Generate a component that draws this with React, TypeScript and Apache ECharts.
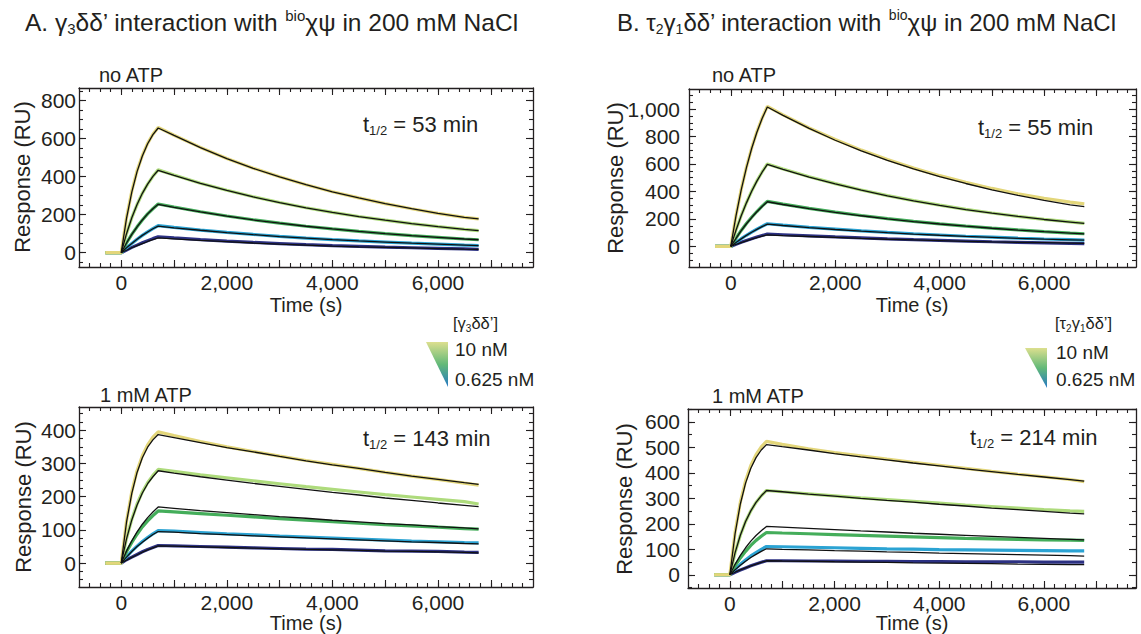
import React, { useEffect, useRef } from "react";
import * as echarts from "echarts";

// ---------- data (time in s, response in RU) ----------
const T_DATA = [-300, 0, 100, 200, 300, 400, 500, 600, 700, 1000, 1500, 2000, 2500, 3000, 3500, 4000, 4500, 5000, 5500, 6000, 6500, 6770];
const T_FIT = [0, 100, 200, 300, 400, 500, 600, 700, 1000, 1500, 2000, 2500, 3000, 3500, 4000, 4500, 5000, 5500, 6000, 6500, 6770];

const CONCENTRATIONS = ["10 nM", "5 nM", "2.5 nM", "1.25 nM", "0.625 nM"];
const COLORS = ["#e3d67a", "#aedb7c", "#44ad5a", "#2ba3d3", "#2c3183"];

const X_LABELS = [0, 2000, 4000, 6000];
const Y_LABELS_A_NO_ATP = [0, 200, 400, 600, 800];
const Y_LABELS_A_ATP = [0, 100, 200, 300, 400];
const Y_LABELS_B_NO_ATP = [0, 200, 400, 600, 800, 1000];
const Y_LABELS_B_ATP = [0, 100, 200, 300, 400, 500, 600];

const A_NO_ATP_DATA = [
  [0, 0, 184, 323, 430, 511, 574, 622, 658, 617, 553, 495, 444, 399, 357, 320, 288, 258, 231, 207, 186, 178],
  [0, 0, 100, 184, 253, 312, 360, 401, 435, 408, 365, 328, 294, 264, 236, 212, 190, 171, 153, 137, 123, 116],
  [0, 0, 51, 96, 136, 172, 204, 231, 256, 240, 215, 193, 173, 155, 139, 125, 112, 100, 90, 81, 72, 68],
  [0, 0, 26, 49, 71, 91, 109, 126, 142, 133, 119, 107, 96, 86, 77, 69, 62, 56, 50, 45, 40, 38],
  [0, 0, 14, 28, 40, 52, 63, 74, 84, 78, 69, 61, 54, 48, 42, 37, 33, 29, 26, 23, 20, 18],
];
const A_NO_ATP_FIT = [
  [0, 180, 318, 426, 508, 572, 620, 655, 616, 552, 494, 443, 398, 357, 320, 288, 258, 231, 207, 186, 178],
  [0, 100, 184, 253, 312, 360, 401, 433, 406, 364, 327, 293, 263, 236, 212, 190, 171, 153, 137, 123, 116],
  [0, 51, 96, 136, 172, 204, 231, 254, 238, 214, 192, 172, 155, 139, 125, 112, 100, 90, 81, 72, 68],
  [0, 26, 49, 71, 91, 109, 126, 140, 131, 118, 106, 95, 85, 77, 69, 62, 56, 50, 45, 40, 37],
  [0, 13, 26, 37, 48, 59, 69, 78, 73, 65, 58, 51, 45, 40, 35, 31, 28, 25, 22, 19, 18],
];

const B_NO_ATP_DATA = [
  [0, 0, 224, 415, 577, 716, 834, 934, 1020, 958, 862, 778, 701, 632, 570, 515, 466, 422, 383, 350, 322, 310],
  [0, 0, 119, 225, 319, 403, 477, 542, 600, 563, 507, 457, 411, 370, 333, 300, 270, 243, 219, 197, 178, 167],
  [0, 0, 60, 116, 167, 212, 254, 293, 328, 308, 277, 250, 225, 202, 182, 164, 148, 133, 120, 108, 97, 92],
  [0, 0, 29, 56, 81, 104, 126, 146, 165, 155, 139, 126, 113, 102, 92, 83, 74, 67, 60, 54, 49, 45],
  [0, 0, 15, 30, 43, 56, 68, 79, 90, 85, 77, 69, 62, 55, 49, 44, 39, 34, 30, 26, 22, 20],
];
const B_NO_ATP_FIT = [
  [0, 222, 412, 574, 713, 831, 931, 1015, 954, 859, 773, 696, 627, 564, 508, 458, 412, 371, 335, 302, 290],
  [0, 118, 223, 317, 401, 475, 540, 597, 561, 505, 455, 409, 368, 331, 298, 268, 242, 218, 196, 177, 167],
  [0, 59, 115, 165, 210, 252, 290, 325, 305, 275, 248, 223, 201, 181, 163, 147, 132, 119, 107, 97, 91],
  [0, 29, 55, 80, 103, 124, 144, 162, 152, 137, 123, 111, 100, 90, 81, 73, 66, 59, 53, 48, 45],
  [0, 14, 28, 41, 53, 64, 74, 84, 79, 72, 65, 58, 52, 47, 42, 37, 33, 30, 27, 24, 22],
];

const A_ATP_DATA = [
  [0, 0, 126, 215, 278, 323, 356, 379, 395, 384, 366, 350, 336, 322, 309, 297, 285, 273, 262, 252, 241, 235],
  [0, 0, 74, 132, 178, 214, 242, 264, 282, 276, 266, 257, 248, 239, 230, 222, 214, 206, 199, 192, 185, 178],
  [0, 0, 34, 62, 87, 109, 127, 143, 157, 154, 149, 144, 139, 134, 129, 125, 120, 116, 112, 108, 104, 102],
  [0, 0, 19, 36, 51, 65, 77, 88, 98, 96, 92, 88, 85, 81, 78, 75, 72, 69, 66, 64, 62, 61],
  [0, 0, 10, 18, 26, 34, 41, 47, 53, 52, 50, 48, 46, 44, 42, 41, 39, 37, 36, 35, 33, 32],
];
const A_ATP_FIT = [
  [0, 123, 210, 273, 317, 349, 371, 387, 378, 363, 348, 335, 321, 308, 296, 285, 273, 262, 252, 242, 237],
  [0, 73, 130, 175, 211, 239, 260, 278, 271, 260, 250, 240, 231, 222, 213, 205, 196, 189, 181, 174, 170],
  [0, 36, 67, 94, 117, 137, 154, 169, 165, 158, 152, 146, 140, 135, 129, 124, 119, 115, 110, 106, 103],
  [0, 18, 35, 50, 63, 75, 86, 95, 93, 89, 86, 82, 79, 76, 73, 70, 67, 64, 62, 59, 58],
  [0, 9, 17, 25, 33, 40, 46, 52, 51, 49, 47, 45, 43, 41, 40, 38, 36, 35, 34, 32, 31],
];

const B_ATP_DATA = [
  [0, 0, 167, 285, 369, 429, 472, 502, 524, 512, 495, 480, 467, 454, 442, 430, 418, 406, 395, 385, 374, 366],
  [0, 0, 87, 155, 209, 251, 284, 310, 331, 326, 318, 310, 302, 295, 288, 281, 274, 268, 262, 256, 251, 249],
  [0, 0, 36, 66, 92, 115, 135, 151, 166, 164, 161, 158, 155, 152, 149, 146, 143, 141, 139, 137, 136, 135],
  [0, 0, 22, 41, 58, 74, 87, 100, 111, 110, 108, 106, 104, 102, 101, 99, 98, 97, 96, 95, 94, 94],
  [0, 0, 10, 19, 27, 35, 42, 49, 55, 55, 54, 54, 53, 53, 52, 52, 51, 51, 51, 50, 50, 50],
];
const B_ATP_FIT = [
  [0, 162, 278, 360, 418, 460, 490, 511, 503, 490, 476, 463, 451, 439, 428, 416, 405, 394, 384, 374, 368],
  [0, 87, 155, 209, 251, 284, 310, 331, 326, 317, 309, 300, 292, 285, 277, 270, 262, 256, 249, 242, 239],
  [0, 41, 76, 106, 132, 154, 173, 190, 187, 182, 177, 172, 168, 163, 159, 155, 151, 147, 143, 139, 137],
  [0, 20, 37, 53, 68, 80, 92, 102, 100, 98, 95, 93, 90, 88, 85, 83, 81, 79, 77, 75, 73],
  [0, 10, 19, 27, 35, 42, 49, 55, 54, 53, 51, 50, 49, 47, 46, 45, 44, 42, 41, 40, 40],
];

// ---------- layout ----------
const FONT = "'Liberation Sans', Arial, Helvetica, sans-serif";
const INK = "#231f20";

const PANELS = [
  { grid: { left: 79, top: 88, width: 454, height: 179 }, x: [-800, 7800], y: [-75, 865], yLabels: Y_LABELS_A_NO_ATP, yMinor: 50, data: A_NO_ATP_DATA, fit: A_NO_ATP_FIT, labelMargin: 3, half: "53" },
  { grid: { left: 79, top: 407, width: 454, height: 180 }, x: [-800, 7800], y: [-72, 470], yLabels: Y_LABELS_A_ATP, yMinor: 25, data: A_ATP_DATA, fit: A_ATP_FIT, labelMargin: 3, half: "143" },
  { grid: { left: 689, top: 89, width: 447, height: 178 }, x: [-800, 7760], y: [-150, 1146], yLabels: Y_LABELS_B_NO_ATP, yMinor: 50, data: B_NO_ATP_DATA, fit: B_NO_ATP_FIT, labelMargin: 9, half: "55" },
  { grid: { left: 688, top: 409, width: 448, height: 179 }, x: [-800, 7760], y: [-52, 651], yLabels: Y_LABELS_B_ATP, yMinor: 50, data: B_ATP_DATA, fit: B_ATP_FIT, labelMargin: 8, half: "214" },
];

function stepTicks(min: number, max: number, step: number) {
  const out: number[] = [];
  for (let v = Math.ceil(min / step) * step; v < max; v += step) {
    if (v > min) out.push(v);
  }
  return out;
}

const fmt = (v: number) => Number(v).toLocaleString("en-US");

function buildOption() {
  const grid: any[] = [];
  const xAxis: any[] = [];
  const yAxis: any[] = [];
  const series: any[] = [];
  const lineStyle = { color: INK, width: 1.3 };
  const tickStyle = { color: INK, width: 1.1 };

  PANELS.forEach((p, i) => {
    grid.push({ ...p.grid, containLabel: false });
    const xMajor = stepTicks(p.x[0], p.x[1], 1000);
    const xMinor = stepTicks(p.x[0], p.x[1], 200);
    const yMinor = stepTicks(p.y[0], p.y[1], p.yMinor);
    const xc = { gridIndex: i, type: "value", min: p.x[0], max: p.x[1], splitLine: { show: false }, silent: true };
    const yc = { gridIndex: i, type: "value", min: p.y[0], max: p.y[1], splitLine: { show: false }, silent: true };
    ["bottom", "top"].forEach((pos) => {
      xAxis.push({
        ...xc, position: pos,
        axisLine: { show: true, onZero: false, lineStyle },
        axisTick: { show: true, inside: true, length: 7, customValues: xMajor, lineStyle: tickStyle },
        axisLabel: pos === "bottom"
          ? { show: true, customValues: X_LABELS, formatter: fmt, margin: 5, fontSize: 21, color: INK, fontFamily: FONT }
          : { show: false },
      });
      xAxis.push({
        ...xc, position: pos,
        axisLine: { show: false, onZero: false },
        axisTick: { show: true, inside: true, length: 4, customValues: xMinor, lineStyle: tickStyle },
        axisLabel: { show: false },
      });
    });
    ["left", "right"].forEach((pos) => {
      yAxis.push({
        ...yc, position: pos,
        axisLine: { show: true, onZero: false, lineStyle },
        axisTick: { show: true, inside: true, length: 7, customValues: p.yLabels, lineStyle: tickStyle },
        axisLabel: pos === "left"
          ? { show: true, customValues: p.yLabels, formatter: fmt, margin: p.labelMargin, fontSize: 21, color: INK, fontFamily: FONT }
          : { show: false },
      });
      yAxis.push({
        ...yc, position: pos,
        axisLine: { show: false, onZero: false },
        axisTick: { show: true, inside: true, length: 4, customValues: yMinor, lineStyle: tickStyle },
        axisLabel: { show: false },
      });
    });
    // measured traces: lowest concentration drawn first, highest on top
    for (let k = p.data.length - 1; k >= 0; k--) {
      const arr = p.data[k];
      series.push({
        type: "line", name: CONCENTRATIONS[k], xAxisIndex: 4 * i, yAxisIndex: 4 * i,
        data: T_DATA.map((t, j) => [t, arr[j]]),
        showSymbol: false, symbol: "none", silent: true, z: 2,
        lineStyle: { color: COLORS[k], width: 3.2 },
      });
    }
    p.fit.forEach((arr, k) => {
      series.push({
        type: "line", name: CONCENTRATIONS[k] + " fit", xAxisIndex: 4 * i, yAxisIndex: 4 * i,
        data: T_FIT.map((t, j) => [t, arr[j]]),
        showSymbol: false, symbol: "none", silent: true, z: 3,
        lineStyle: { color: "#111", width: 1.3 },
      });
    });
  });

  const base = { fill: INK, fontFamily: FONT };
  const rich = (size: number) => ({
    n: { fontSize: size, fontFamily: FONT, color: INK, lineHeight: size + 4 },
    sub: { fontSize: Math.round(size * 0.6), fontFamily: FONT, color: INK, lineHeight: Math.round(size * 0.6), verticalAlign: "bottom" },
    sup: { fontSize: Math.round(size * 0.6), fontFamily: FONT, color: INK, lineHeight: Math.round(size * 0.6), verticalAlign: "top" },
  });
  const txt = (x: number, y: number, text: string, size: number, align = "left", extra: any = {}) => ({
    type: "text", x, y, silent: true, ...extra,
    style: { ...base, text, fontSize: size, textAlign: align, align, textVerticalAlign: "middle", verticalAlign: "middle", rich: rich(size) },
  });

  const graphic: any[] = [
    txt(25, 22, "{n|A. γ}{sub|3}{n|δδ’ interaction with }{sup|bio}{n|χψ in 200 mM NaCl}", 24.5),
    txt(617, 22, "{n|B. τ}{sub|2}{n|γ}{sub|1}{n|δδ’ interaction with }{sup|bio}{n|χψ in 200 mM NaCl}", 24),
    txt(99, 75, "no ATP", 20),
    txt(712, 75, "no ATP", 20),
    txt(100, 395, "1 mM ATP", 20),
    txt(712, 396, "1 mM ATP", 20),
    txt(363, 124, "{n|t}{sub|1/2}{n| = " + PANELS[0].half + " min}", 22),
    txt(363, 438, "{n|t}{sub|1/2}{n| = " + PANELS[1].half + " min}", 22),
    txt(978, 127, "{n|t}{sub|1/2}{n| = " + PANELS[2].half + " min}", 22),
    txt(970, 437, "{n|t}{sub|1/2}{n| = " + PANELS[3].half + " min}", 22),
    txt(22, 177, "Response (RU)", 22, "center", { rotation: Math.PI / 2 }),
    txt(23, 497, "Response (RU)", 22, "center", { rotation: Math.PI / 2 }),
    txt(615, 178, "Response (RU)", 22, "center", { rotation: Math.PI / 2 }),
    txt(624, 499, "Response (RU)", 22, "center", { rotation: Math.PI / 2 }),
    txt(306, 305, "Time (s)", 20, "center"),
    txt(306, 623, "Time (s)", 20, "center"),
    txt(912, 305, "Time (s)", 20, "center"),
    txt(912, 623, "Time (s)", 20, "center"),
    // legends
    txt(453, 323, "{n|[γ}{sub|3}{n|δδ’]}", 16.5),
    txt(455, 349, CONCENTRATIONS[0], 19),
    txt(455, 379, CONCENTRATIONS[4], 19),
    txt(1055, 323, "{n|[τ}{sub|2}{n|γ}{sub|1}{n|δδ’]}", 16.5),
    txt(1056, 352, CONCENTRATIONS[0], 19),
    txt(1056, 379, CONCENTRATIONS[4], 19),
  ];
  const grad = {
    type: "linear", x: 0, y: 0, x2: 0, y2: 1,
    colorStops: [
      { offset: 0, color: "#dcdf8e" },
      { offset: 0.5, color: "#62b978" },
      { offset: 1, color: "#2478c4" },
    ],
  };
  graphic.push({ type: "polygon", silent: true, shape: { points: [[426, 342], [448, 342], [448, 387]] }, style: { fill: grad } });
  graphic.push({ type: "polygon", silent: true, shape: { points: [[1025, 348], [1047, 348], [1047, 388]] }, style: { fill: grad } });

  return {
    animation: false,
    backgroundColor: "#ffffff",
    textStyle: { fontFamily: FONT },
    grid, xAxis, yAxis, series, graphic,
  };
}

export default function App() {
  const ref = useRef<HTMLDivElement>(null);
  useEffect(() => {
    if (!ref.current) return;
    const chart = echarts.init(ref.current, undefined, { renderer: "svg" });
    chart.setOption(buildOption() as any);
    return () => chart.dispose();
  }, []);
  return <div ref={ref} style={{ position: "absolute", left: 0, top: 0, width: 1141, height: 634 }} />;
}
